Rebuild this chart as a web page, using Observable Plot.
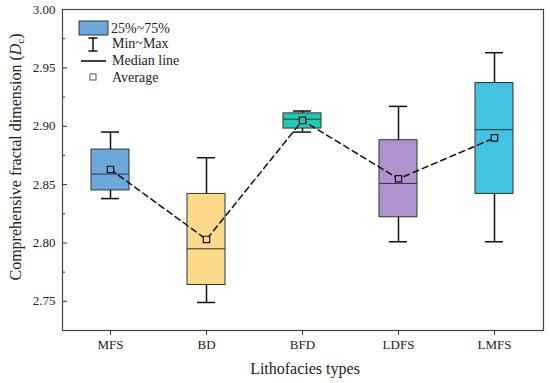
<!DOCTYPE html>
<html>
<head>
<meta charset="utf-8">
<script src="https://cdn.jsdelivr.net/npm/d3@7"></script>
<script src="https://cdn.jsdelivr.net/npm/@observablehq/plot@0.6"></script>
<style>
  html, body { margin: 0; padding: 0; background: #fff; }
  #chart { width: 550px; height: 383px; }
</style>
</head>
<body>
<div id="chart"></div>
<script>
const categories = ["MFS", "BD", "BFD", "LDFS", "LMFS"];
const minVals    = [2.838, 2.749, 2.895, 2.801, 2.801];
const q1Vals     = [2.845, 2.764, 2.898, 2.822, 2.842];
const medianVals = [2.859, 2.795, 2.906, 2.851, 2.897];
const q3Vals     = [2.880, 2.842, 2.911, 2.888, 2.937];
const maxVals    = [2.895, 2.873, 2.913, 2.917, 2.963];
const meanVals   = [2.863, 2.803, 2.905, 2.855, 2.890];
const boxColors  = ["#6ca8dc", "#fdd98a", "#1ecab3", "#ae93d1", "#42c3e1"];
const yTicks      = [2.75, 2.80, 2.85, 2.90, 2.95, 3.00];
const yMinorTicks = [2.775, 2.825, 2.875, 2.925, 2.975];
const legendLabels = ["25%~75%", "Min~Max", "Median line", "Average"];
const xTitle = "Lithofacies types";

const data = categories.map((c, i) => ({
  cat: c, min: minVals[i], q1: q1Vals[i], median: medianVals[i],
  q3: q3Vals[i], max: maxVals[i], mean: meanVals[i], color: boxColors[i]
}));

const W = 550, H = 383, mL = 62, mR = 7, mT = 9, mB = 53;
const plotW = W - mL - mR;
const serif = "'Liberation Serif', 'DejaVu Serif', serif";

const chart = Plot.plot({
  width: W, height: H,
  marginLeft: mL, marginRight: mR, marginTop: mT, marginBottom: mB,
  style: { fontFamily: serif, fontSize: "13px", color: "#222", background: "#fff" },
  x: { type: "band", domain: categories, paddingInner: 0.604, paddingOuter: 0.307, label: null },
  y: { domain: [2.725, 3.0], label: null },
  color: { type: "identity" },
  marks: [
    Plot.barY(data, { x: "cat", y1: "q1", y2: "q3", fill: "color", stroke: "#333", strokeWidth: 1 }),
    Plot.tickY(data, { x: "cat", y: "median", stroke: "#333", strokeWidth: 1 }),
    Plot.ruleX(data, { x: "cat", y1: "q3", y2: "max", stroke: "#111", strokeWidth: 1.5 }),
    Plot.ruleX(data, { x: "cat", y1: "min", y2: "q1", stroke: "#111", strokeWidth: 1.5 }),
    Plot.tickY(data, { x: "cat", y: "max", stroke: "#111", strokeWidth: 1.5, insetLeft: 10, insetRight: 10 }),
    Plot.tickY(data, { x: "cat", y: "min", stroke: "#111", strokeWidth: 1.5, insetLeft: 10, insetRight: 10 }),
    Plot.line(data, { x: "cat", y: "mean", stroke: "#111", strokeWidth: 1.5, strokeDasharray: "6,4" }),
    Plot.dot(data, { x: "cat", y: "mean", symbol: "square", r: 3.6, stroke: "#111", strokeWidth: 1.2, fill: "color" }),
    Plot.tickY(yTicks, { y: d => d, stroke: "#333", strokeWidth: 1, insetRight: plotW - 5 }),
    Plot.tickY(yMinorTicks, { y: d => d, stroke: "#333", strokeWidth: 1, insetRight: plotW - 3 }),
    Plot.axisY({ ticks: yTicks, tickFormat: ".2f", tickSize: 0, tickPadding: 7, label: null, fill: "#222" }),
    Plot.axisX({ tickSize: 5, tickPadding: 4, label: null, stroke: "#333", fill: "#222" }),
    Plot.frame({ stroke: "#444", strokeWidth: 1.2 })
  ]
});

document.getElementById("chart").appendChild(chart);

const svg = d3.select(chart);
const g = svg.append("g").attr("font-family", serif).attr("font-size", 14)
  .attr("fill", "#222").attr("text-anchor", "start");
g.append("rect").attr("x", 79).attr("y", 21).attr("width", 29).attr("height", 14)
  .attr("fill", boxColors[0]).attr("stroke", "#333").attr("stroke-width", 1);
g.append("text").attr("x", 111).attr("y", 32.5).text(legendLabels[0]);
g.append("path").attr("d", "M93,38V51M88.5,38H97.5M88.5,51H97.5").attr("stroke", "#111").attr("stroke-width", 1.5).attr("fill", "none");
g.append("text").attr("x", 112).attr("y", 48).text(legendLabels[1]);
g.append("path").attr("d", "M81,61H106").attr("stroke", "#111").attr("stroke-width", 1.6);
g.append("text").attr("x", 112).attr("y", 65).text(legendLabels[2]);
g.append("rect").attr("x", 90).attr("y", 74).attr("width", 6).attr("height", 6)
  .attr("fill", "none").attr("stroke", "#555").attr("stroke-width", 1);
g.append("text").attr("x", 112).attr("y", 82).text(legendLabels[3]);

const t = svg.append("g").attr("font-family", serif).attr("font-size", 16).attr("fill", "#222");
t.append("text").attr("x", 305).attr("y", 374).attr("text-anchor", "middle").text(xTitle);
const yt = t.append("text").attr("transform", "translate(21,157) rotate(-90)").attr("text-anchor", "middle");
yt.append("tspan").text("Comprehensive fractal dimension (");
yt.append("tspan").attr("font-style", "italic").text("D");
yt.append("tspan").attr("font-size", 11).attr("dy", 3).text("c");
yt.append("tspan").attr("dy", -3).text(")");
</script>
</body>
</html>
